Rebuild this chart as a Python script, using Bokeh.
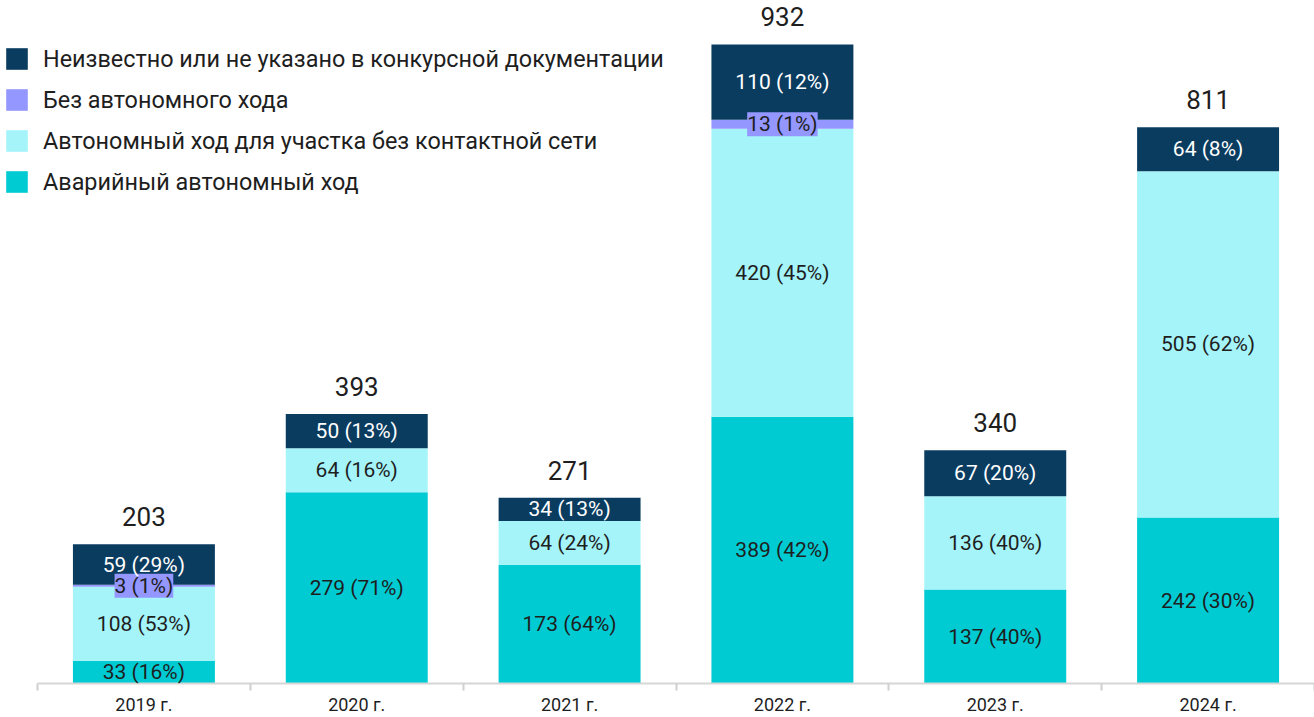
from bokeh.plotting import figure
from bokeh.models import ColumnDataSource, Range1d, FixedTicker, LabelSet, Legend, LegendItem
from bokeh.core.properties import value
from bokeh.embed import file_html
from bokeh.resources import INLINE

years = ["2019 г.", "2020 г.", "2021 г.", "2022 г.", "2023 г.", "2024 г."]
emergency = [33, 279, 173, 389, 137, 242]
autonomous = [108, 64, 64, 420, 136, 505]
no_autonomous = [3, 0, 0, 13, 0, 0]
unknown = [59, 50, 34, 110, 67, 64]
emergency_pct = [16, 71, 64, 42, 40, 30]
autonomous_pct = [53, 16, 24, 45, 40, 62]
no_autonomous_pct = [1, 0, 0, 1, 0, 0]
unknown_pct = [29, 13, 13, 12, 20, 8]
totals = [203, 393, 271, 932, 340, 811]

series_names = [
    "Аварийный автономный ход",
    "Автономный ход для участка без контактной сети",
    "Без автономного хода",
    "Неизвестно или не указано в конкурсной документации",
]
colors = ["#00cbd3", "#a5f4f9", "#9497ff", "#0a3c60"]
text_colors = ["#1e1e1e", "#1e1e1e", "#1e1e1e", "#ffffff"]
FONT = "Roboto"

W, H = 1314, 717
LEFT_PAD = 37
n = len(years)
unit = (W - LEFT_PAD) / n
xs = [i + 0.5 for i in range(n)]
keys = ["emergency", "autonomous", "no_autonomous", "unknown"]
src = ColumnDataSource(dict(x=xs, emergency=emergency, autonomous=autonomous,
                            no_autonomous=no_autonomous, unknown=unknown, total=totals,
                            total_text=[str(t) for t in totals]))

p = figure(width=W, height=H, x_range=Range1d(-LEFT_PAD / unit, n), y_range=Range1d(0, 996),
           output_backend="svg", toolbar_location=None,
           min_border_left=0, min_border_right=0, min_border_top=0, min_border_bottom=0)
p.outline_line_color = None
p.xgrid.visible = False
p.ygrid.visible = False
p.yaxis.visible = False

rs = p.vbar_stack(keys, x="x", width=0.667, color=colors, line_color=None, source=src)

ax = p.xaxis[0]
ax.bounds = (0, n)
ax.ticker = FixedTicker(ticks=xs, minor_ticks=list(range(n + 1)))
ax.major_label_overrides = {x: y for x, y in zip(xs, years)}
ax.major_tick_out = 0
ax.major_tick_in = 0
ax.minor_tick_out = 7
ax.minor_tick_in = 0
ax.minor_tick_line_color = "#d0d0d0"
ax.minor_tick_line_width = 2
ax.axis_line_color = "#d6d6d6"
ax.axis_line_width = 2
ax.major_label_standoff = 3
ax.major_label_text_font = FONT
ax.major_label_text_font_size = "18px"
ax.major_label_text_color = "#1e1e1e"

values = [emergency, autonomous, no_autonomous, unknown]
pcts = [emergency_pct, autonomous_pct, no_autonomous_pct, unknown_pct]
bottoms = [0] * n
for si, (vals, pc) in enumerate(zip(values, pcts)):
    lx, ly, lt = [], [], []
    for i, v in enumerate(vals):
        if v > 0:
            lx.append(xs[i])
            ly.append(bottoms[i] + v / 2)
            lt.append(f"{v} ({pc[i]}%)")
    bottoms = [b + v for b, v in zip(bottoms, vals)]
    lsrc = ColumnDataSource(dict(x=lx, y=ly, t=lt))
    kw = {}
    if keys[si] == "no_autonomous":
        kw = dict(background_fill_color=colors[si])
    p.add_layout(LabelSet(x="x", y="y", text="t", source=lsrc, text_align="center",
                          text_baseline="middle", text_font=value(FONT), text_font_size="21px",
                          text_color=text_colors[si], **kw))

p.add_layout(LabelSet(x="x", y="total", text="total_text", source=src, text_align="center",
                      text_baseline="alphabetic", y_offset=18, text_font=value(FONT),
                      text_font_size="26px", text_color="#1e1e1e"))

items = [LegendItem(label=series_names[i], renderers=[rs[i]]) for i in [3, 2, 1, 0]]
legend = Legend(items=items, location=(3, 481), orientation="vertical",
                glyph_width=27, glyph_height=27, label_standoff=13, spacing=0,
                label_height=41, padding=0, margin=0, border_line_color=None,
                background_fill_alpha=0, label_text_font=FONT, label_text_font_size="23.4px",
                label_text_color="#1e1e1e", label_text_baseline="middle")
p.add_layout(legend)

open("out.html", "w").write(file_html(p, INLINE))
